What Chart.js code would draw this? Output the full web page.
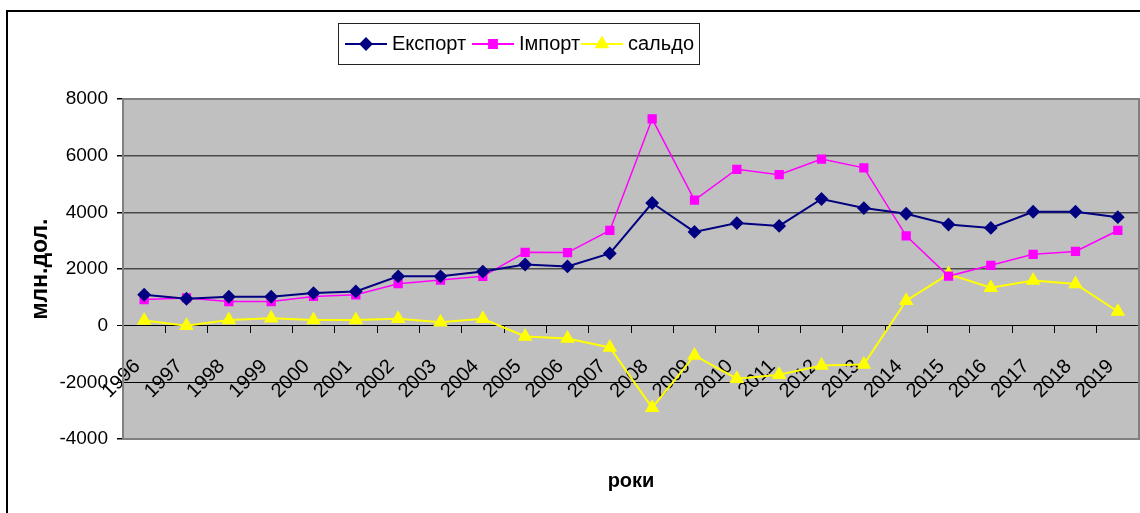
<!DOCTYPE html>
<html>
<head>
<meta charset="utf-8">
<script src="https://cdn.jsdelivr.net/npm/chart.js@4/dist/chart.umd.min.js"></script>
<style>
  html, body { margin: 0; padding: 0; background: #fff; }
  #wrap { width: 1140px; height: 513px; }
</style>
</head>
<body>
<div id="wrap"><canvas id="chart" width="1140" height="513"></canvas></div>
<script>
// === Data ===
const years = ["1996", "1997", "1998", "1999", "2000", "2001", "2002", "2003", "2004", "2005", "2006", "2007",
  "2008", "2009", "2010", "2011", "2012", "2013", "2014", "2015", "2016", "2017", "2018", "2019"];
const seriesNames = ["Експорт", "Імпорт", "сальдо"];
const exportValues = [1090, 950, 1020, 1020, 1150, 1210, 1740, 1740, 1910, 2160, 2090, 2550,
  4330, 3310, 3620, 3520, 4470, 4150, 3950, 3570, 3450, 4020, 4020, 3830];
const importValues = [920, 980, 850, 850, 1030, 1090, 1480, 1610, 1740, 2590, 2580, 3360,
  7300, 4430, 5520, 5330, 5880, 5570, 3170, 1750, 2130, 2520, 2620, 3360];
const saldoValues = [180, 0, 200, 260, 200, 200, 240, 120, 240, -380, -450, -770,
  -2900, -1050, -1870, -1730, -1410, -1370, 880, 1820, 1340, 1590, 1470, 500];
const yTicks = [-4000, -2000, 0, 2000, 4000, 6000, 8000];
const yAxisTitle = "млн.дол.";
const xAxisTitle = "роки";

Chart.defaults.font.family = "'Liberation Sans', Arial, sans-serif";
Chart.defaults.color = "#000";

// === Plugins ===
// plot background + border
const plotArea = {
  id: "plotArea",
  beforeDraw(chart) {
    const { ctx, chartArea: a } = chart;
    ctx.save();
    ctx.fillStyle = "#c0c0c0";
    ctx.fillRect(a.left, a.top, a.right - a.left, a.bottom - a.top);
    ctx.restore();
  },
  beforeDatasetsDraw(chart) {
    const { ctx, chartArea: a } = chart;
    ctx.save();
    ctx.strokeStyle = "#808080";
    ctx.lineWidth = 2;
    ctx.strokeRect(a.left, a.top, a.right - a.left, a.bottom - a.top);
    ctx.restore();
  }
};

// boxed legend with line + marker, and outer frame
const boxLegend = {
  id: "boxLegend",
  afterDraw(chart) {
    const ctx = chart.ctx;
    ctx.save();
    // outer frame (cropped at right/bottom)
    ctx.strokeStyle = "#000";
    ctx.lineWidth = 2;
    ctx.beginPath();
    ctx.moveTo(7, 513);
    ctx.lineTo(7, 11);
    ctx.lineTo(1140, 11);
    ctx.stroke();

    // legend box
    ctx.lineWidth = 1;
    ctx.strokeStyle = "#222";
    ctx.strokeRect(338.5, 23.5, 361, 41);

    const itemX = [345, 472, 581];
    const cy = 44;
    ctx.font = "20px 'Liberation Sans', Arial, sans-serif";
    ctx.textBaseline = "middle";
    ctx.textAlign = "left";
    chart.data.datasets.forEach((ds, i) => {
      const x0 = itemX[i];
      ctx.strokeStyle = ds.borderColor;
      ctx.lineWidth = 2;
      ctx.beginPath();
      ctx.moveTo(x0, cy);
      ctx.lineTo(x0 + 42, cy);
      ctx.stroke();
      ctx.fillStyle = ds.pointBackgroundColor;
      ctx.strokeStyle = ds.pointBorderColor;
      Chart.helpers.drawPoint(ctx, {
        pointStyle: ds.pointStyle, radius: ds.pointRadius, borderWidth: 1, rotation: 0
      }, x0 + 21, cy);
      ctx.fillStyle = "#000";
      ctx.fillText(ds.label, x0 + 47, cy);
    });
    ctx.restore();
  }
};

// === Chart ===
const ctx = document.getElementById("chart").getContext("2d");
new Chart(ctx, {
  type: "line",
  data: {
    labels: years,
    datasets: [
      {
        label: seriesNames[0],
        data: exportValues,
        borderColor: "#000080",
        backgroundColor: "#000080",
        pointBackgroundColor: "#000080",
        pointBorderColor: "#000080",
        pointStyle: "rectRot",
        pointRadius: 5.5,
        borderWidth: 2
      },
      {
        label: seriesNames[1],
        data: importValues,
        borderColor: "#ff00ff",
        backgroundColor: "#ff00ff",
        pointBackgroundColor: "#ff00ff",
        pointBorderColor: "#ff00ff",
        pointStyle: "rect",
        pointRadius: 5.5,
        borderWidth: 1.5
      },
      {
        label: seriesNames[2],
        data: saldoValues,
        borderColor: "#ffff00",
        backgroundColor: "#ffff00",
        pointBackgroundColor: "#ffff00",
        pointBorderColor: "#ffff00",
        pointStyle: "triangle",
        pointRadius: 6.5,
        borderWidth: 2
      }
    ]
  },
  options: {
    responsive: false,
    animation: false,
    layout: { autoPadding: false, padding: { top: 99, right: 1, left: 0, bottom: 0 } },
    elements: { line: { tension: 0 } },
    plugins: {
      legend: { display: false },
      tooltip: { enabled: false },
      title: {
        display: true,
        text: xAxisTitle,
        position: "bottom",
        fullSize: false,
        font: { size: 20, weight: "bold" },
        padding: { top: 30, bottom: 20 }
      }
    },
    scales: {
      x: {
        type: "category",
        position: { y: 0 },
        offset: true,
        afterFit(scale) {
          scale.paddingLeft = 0;
          scale.paddingRight = 0;
        },
        grid: {
          offset: true,
          drawOnChartArea: false,
          drawTicks: true,
          tickLength: 7,
          tickColor: "#000"
        },
        border: { display: true, color: "#000", width: 1 },
        ticks: {
          autoSkip: false,
          maxRotation: 45,
          minRotation: 45,
          padding: 22,
          labelOffset: -7,
          font: { size: 20 }
        }
      },
      y: {
        min: -4000,
        max: 8000,
        afterFit(scale) { scale.width = 123; },
        afterBuildTicks(scale) { scale.ticks = yTicks.map(v => ({ value: v })); },
        grid: {
          color: c => (c.tick && (c.tick.value === 0 || c.tick.value === -2000)) ? "#000" : "#4a4a4a",
          lineWidth: c => (c.tick && (c.tick.value === 0 || c.tick.value === -2000)) ? 1 : 1.5,
          tickLength: 6,
          tickColor: "#000"
        },
        border: { display: true, color: "#000", width: 1 },
        ticks: {
          padding: 9,
          font: { size: 19 },
          callback: v => String(v)
        },
        title: {
          display: true,
          text: yAxisTitle,
          font: { size: 23, weight: "bold" },
          padding: { top: 27, bottom: 0 }
        }
      }
    }
  },
  plugins: [plotArea, boxLegend]
});
</script>
</body>
</html>
